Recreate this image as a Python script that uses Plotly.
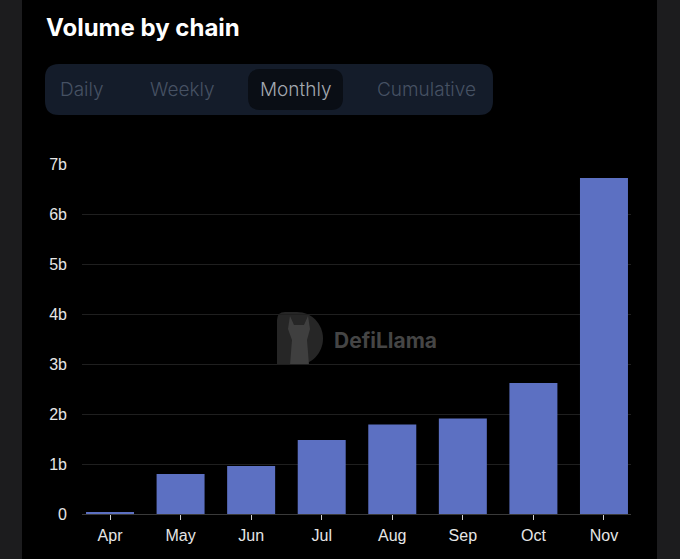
import plotly.graph_objects as go

months = ["Apr", "May", "Jun", "Jul", "Aug", "Sep", "Oct", "Nov"]
volume_b = [0.04, 0.80, 0.96, 1.48, 1.79, 1.91, 2.62, 6.72]
ytick_vals = [0, 1, 2, 3, 4, 5, 6, 7]
ytick_text = ["0", "1b", "2b", "3b", "4b", "5b", "6b", "7b"]
tabs = ["Daily", "Weekly", "Monthly", "Cumulative"]
tab_centers_px = [82, 182, 295, 426]

W, H = 680, 559
ML, MR, MT, MB = 82, 49, 164, 45
PW, PH = W - ML - MR, H - MT - MB


def px2x(px):
    return (px - ML) / PW


def py2y(py):
    return (H - MB - py) / PH


def path(cmds):
    s = ""
    for cmd, ps in cmds:
        s += cmd + " " + " ".join(f"{px2x(a):.5f},{py2y(b):.5f}" for a, b in ps) + " "
    return s + "Z"


def rrect(x0, y0, x1, y1, r):
    return path([
        ("M", [(x0 + r, y0)]), ("L", [(x1 - r, y0)]), ("Q", [(x1, y0), (x1, y0 + r)]),
        ("L", [(x1, y1 - r)]), ("Q", [(x1, y1), (x1 - r, y1)]),
        ("L", [(x0 + r, y1)]), ("Q", [(x0, y1), (x0, y1 - r)]),
        ("L", [(x0, y0 + r)]), ("Q", [(x0, y0), (x0 + r, y0)]),
    ])


fig = go.Figure()
fig.add_trace(go.Bar(
    x=months, y=volume_b, marker=dict(color="#5c70c2", line=dict(width=0)),
    width=0.68, hoverinfo="skip",
))

shapes = [
    # black panel
    dict(type="rect", xref="paper", yref="paper", x0=px2x(22), x1=px2x(657),
         y0=py2y(600), y1=py2y(-20), fillcolor="#000000", line=dict(width=0), layer="below"),
    # tab bar
    dict(type="path", xref="paper", yref="paper", path=rrect(45, 64, 493, 115, 14),
         fillcolor="#141c2a", line=dict(width=0), layer="below"),
    dict(type="path", xref="paper", yref="paper", path=rrect(248, 69, 343, 110, 12),
         fillcolor="#0a0e15", line=dict(width=0), layer="below"),
    # logo D
    dict(type="path", xref="paper", yref="paper",
         path=path([("M", [(285, 312)]), ("L", [(297, 312)]),
                    ("C", [(311.6, 312), (323, 324), (323, 338.5)]),
                    ("C", [(323, 353), (311.6, 365), (297, 365)]),
                    ("L", [(277, 365)]), ("L", [(277, 320)]),
                    ("Q", [(277, 312), (285, 312)])]),
         fillcolor="#262626", line=dict(width=0), layer="below"),
    # llama silhouette
    dict(type="path", xref="paper", yref="paper",
         path=path([("M", [(290, 316)]), ("L", [(294, 325)]), ("L", [(304, 325)]),
                    ("L", [(308, 316)]), ("L", [(310, 329)]), ("L", [(307, 340)]),
                    ("L", [(309, 365)]), ("L", [(290, 365)]), ("L", [(292, 340)]),
                    ("L", [(288, 329)])]),
         fillcolor="#3f3f3f", line=dict(width=0), layer="below"),
]

annotations = [
    dict(text="<b>Volume by chain</b>", x=px2x(44), y=py2y(27), xref="paper", yref="paper",
         xanchor="left", yanchor="middle", showarrow=False,
         font=dict(family="Inter", size=24, color="#ffffff")),
    dict(text="<b>DefiLlama</b>", x=px2x(332), y=py2y(340), xref="paper", yref="paper",
         xanchor="left", yanchor="middle", showarrow=False,
         font=dict(family="Inter", size=21, color="#454545")),
]
for name, cx in zip(tabs, tab_centers_px):
    annotations.append(dict(
        text=name, x=px2x(cx), y=py2y(89), xref="paper", yref="paper",
        xanchor="center", yanchor="middle", showarrow=False,
        font=dict(family="Inter", size=19, weight=300,
                  color="#a3a8b0" if name == "Monthly" else "#465163")))

fig.update_layout(
    width=W, height=H,
    margin=dict(l=ML, r=MR, t=MT, b=MB),
    paper_bgcolor="#1c1c1e", plot_bgcolor="#000000",
    showlegend=False,
    shapes=shapes, annotations=annotations,
    xaxis=dict(
        range=[-0.397, 7.383], showgrid=False, zeroline=False,
        showline=True, linecolor="#3a3a3a", linewidth=1,
        ticks="outside", ticklen=5, tickcolor="#d0d0d0", tickwidth=1,
        tickfont=dict(family="Liberation Sans", size=16, color="#e6e6e6"),
        ticklabelstandoff=2, fixedrange=True,
    ),
    yaxis=dict(
        range=[0, 7], tickvals=ytick_vals, ticktext=ytick_text,
        showgrid=True, gridcolor="#1f1f1f", gridwidth=1, zeroline=False,
        showline=False, ticks="",
        tickfont=dict(family="Liberation Sans", size=16, color="#e6e6e6"),
        ticklabelstandoff=14, fixedrange=True,
    ),
)

fig.write_html("out.html", config=dict(displayModeBar=False),
               post_script="document.body.style.margin='0';document.body.style.overflow='hidden';")
